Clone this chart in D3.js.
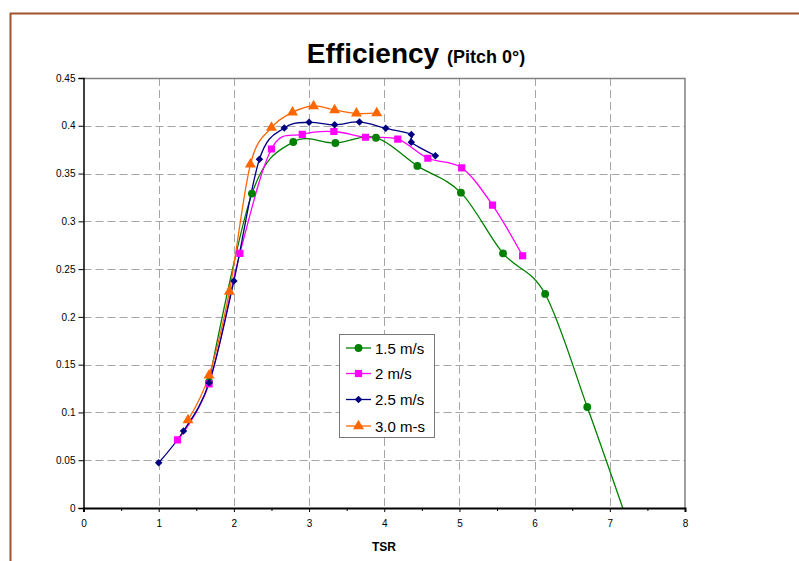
<!DOCTYPE html>
<html>
<head>
<meta charset="utf-8">
<script src="https://cdn.jsdelivr.net/npm/d3@7"></script>
<style>
	body { margin: 0; background: #fff; }
	svg { font-family: "Liberation Sans", Arial, sans-serif; }
</style>
</head>
<body>
<svg width="799" height="561"></svg>
<script>
// data
var seriesNames = ["1.5 m/s", "2 m/s", "2.5 m/s", "3.0 m-s"];
var seriesColors = ["#008000", "#ff00ff", "#000080", "#ff6600"];
var seriesSymbols = [d3.symbolCircle, d3.symbolSquare, d3.symbolSquare, d3.symbolTriangle];
var symbolSizes = [48, 52, 28, 52];
var symbolAngles = [0, 0, 45, 0];

var tsr15 = [1.67, 2.24, 2.79, 3.35, 3.89, 4.44, 5.02, 5.58, 6.14, 6.70, 7.26];
var eff15 = [0.132, 0.329, 0.383, 0.382, 0.3875, 0.358, 0.330, 0.2665, 0.224, 0.1057, -0.02];
var tsr20 = [1.25, 1.67, 2.08, 2.50, 2.91, 3.33, 3.75, 4.18, 4.58, 5.03, 5.44, 5.84];
var eff20 = [0.0712, 0.130, 0.2665, 0.3757, 0.391, 0.394, 0.388, 0.386, 0.366, 0.356, 0.317, 0.264];
var tsr25 = [1.00, 1.33, 1.67, 2.00, 2.34, 2.67, 3.00, 3.34, 3.67, 4.02, 4.36, 4.36, 4.68];
var eff25 = [0.0474, 0.0806, 0.131, 0.2375, 0.365, 0.3977, 0.4036, 0.401, 0.404, 0.3973, 0.391, 0.3827, 0.3687];
var tsr30 = [1.39, 1.67, 1.94, 2.22, 2.50, 2.78, 3.06, 3.34, 3.63, 3.90];
var eff30 = [0.0921, 0.1388, 0.2264, 0.3597, 0.398, 0.414, 0.4207, 0.4165, 0.413, 0.4133];

var xTicks = [0, 1, 2, 3, 4, 5, 6, 7, 8];
var xMinorTicks = [0.5, 1.5, 2.5, 3.5, 4.5, 5.5, 6.5, 7.5];
var yTicks = [0, 0.05, 0.1, 0.15, 0.2, 0.25, 0.3, 0.35, 0.4, 0.45];

var xs = [tsr15, tsr20, tsr25, tsr30];
var ys = [eff15, eff20, eff25, eff30];
var series = seriesNames.map(function(name, i) {
	return {
		name: name, color: seriesColors[i], symbol: seriesSymbols[i], size: symbolSizes[i], angle: symbolAngles[i],
		points: xs[i].map(function(x, j) {return {x: x, y: ys[i][j]}})
	};
});

var svg = d3.select('svg');
var plotL = 83.5, plotR = 685, plotT = 78, plotB = 508;

var x = d3.scaleLinear().domain([0, 8]).range([plotL, plotR]);
var y = d3.scaleLinear().domain([0, 0.45]).range([plotB, plotT]);

// outer frame
svg.append('rect')
	.attr('x', 10.5).attr('y', 13.5).attr('width', 820).attr('height', 600)
	.attr('fill', 'none').attr('stroke', '#a0522d').attr('stroke-width', 2);

// title
var title = svg.append('text')
	.attr('x', 416).attr('y', 63).attr('text-anchor', 'middle')
	.attr('font-weight', 'bold');
title.append('tspan').attr('font-size', 28).text('Efficiency ');
title.append('tspan').attr('font-size', 18).text('(Pitch 0°)');

// grid
svg.append('g').selectAll('line').data(yTicks.slice(1, -1)).enter().append('line')
	.attr('x1', plotL).attr('x2', plotR)
	.attr('y1', function(d) {return Math.round(y(d)) + 0.5})
	.attr('y2', function(d) {return Math.round(y(d)) + 0.5})
	.attr('stroke', '#a6a6a6').attr('stroke-dasharray', '8,4');
svg.append('g').selectAll('line').data(xTicks.slice(1, -1)).enter().append('line')
	.attr('y1', plotT).attr('y2', plotB)
	.attr('x1', function(d) {return Math.round(x(d)) + 0.5})
	.attr('x2', function(d) {return Math.round(x(d)) + 0.5})
	.attr('stroke', '#a6a6a6').attr('stroke-dasharray', '8,4');

// plot frame (top and right)
svg.append('path')
	.attr('d', 'M' + plotL + ',' + (plotT + 0.5) + 'H' + plotR + 'V' + plotB)
	.attr('fill', 'none').attr('stroke', '#808080').attr('stroke-width', 1.5);

// series
svg.append('clipPath').attr('id', 'plotClip').append('rect')
	.attr('x', plotL).attr('y', plotT - 10).attr('width', plotR - plotL).attr('height', plotB - plotT + 10);

var line = d3.line()
	.x(function(d) {return x(d.x)})
	.y(function(d) {return y(d.y)})
	.curve(d3.curveCatmullRom.alpha(0));

var g = svg.append('g').attr('clip-path', 'url(#plotClip)');
series.forEach(function(s) {
	g.append('path')
		.attr('d', line(s.points))
		.attr('fill', 'none').attr('stroke', s.color).attr('stroke-width', 1.3);
});
series.forEach(function(s) {
	g.selectAll(null).data(s.points.filter(function(p) {return p.y >= 0})).enter().append('path')
		.attr('d', d3.symbol().type(s.symbol).size(s.size))
		.attr('transform', function(p) {return 'translate(' + x(p.x) + ',' + y(p.y) + ') rotate(' + s.angle + ')'})
		.attr('fill', s.color);
});

// axes
var xAxis = svg.append('g').attr('transform', 'translate(0,' + plotB + ')')
	.call(d3.axisBottom(x).tickValues(xTicks).tickSize(4).tickPadding(8).tickFormat(d3.format('d')));
svg.append('g').attr('transform', 'translate(0,' + plotB + ')')
	.call(d3.axisBottom(x).tickValues(xMinorTicks).tickSize(3).tickFormat(''))
	.select('.domain').remove();
var yAxis = svg.append('g').attr('transform', 'translate(' + plotL + ',0)')
	.call(d3.axisLeft(y).tickValues(yTicks).tickSize(5).tickPadding(3).tickFormat(function(d) {return String(+d.toFixed(2))}));

xAxis.select('.domain').attr('stroke-width', 2);
yAxis.select('.domain').attr('stroke-width', 1.5);
svg.selectAll('.tick text').attr('font-size', 10).attr('font-family', '"Liberation Sans", Arial, sans-serif').attr('fill', '#000');

svg.append('text')
	.attr('x', 384).attr('y', 551).attr('text-anchor', 'middle')
	.attr('font-size', 12).attr('font-weight', 'bold').text('TSR');

// legend
var legend = svg.append('g');
legend.append('rect')
	.attr('x', 339.5).attr('y', 334.5).attr('width', 95).attr('height', 103)
	.attr('fill', '#fff').attr('stroke', '#777');
var rows = legend.selectAll('g.row').data(series).enter().append('g')
	.attr('transform', function(s, i) {return 'translate(0,' + [348, 373.5, 399.5, 426][i] + ')'});
rows.append('line').attr('x1', 346).attr('x2', 371)
	.attr('stroke', function(s) {return s.color}).attr('stroke-width', 1.3);
rows.append('path')
	.attr('d', function(s) {return d3.symbol().type(s.symbol).size(s.size)()})
	.attr('transform', function(s) {return 'translate(358.5,0) rotate(' + s.angle + ')'})
	.attr('fill', function(s) {return s.color});
rows.append('text').attr('x', 375).attr('y', 5.5)
	.attr('font-size', 15).text(function(s) {return s.name});
</script>
</body>
</html>
